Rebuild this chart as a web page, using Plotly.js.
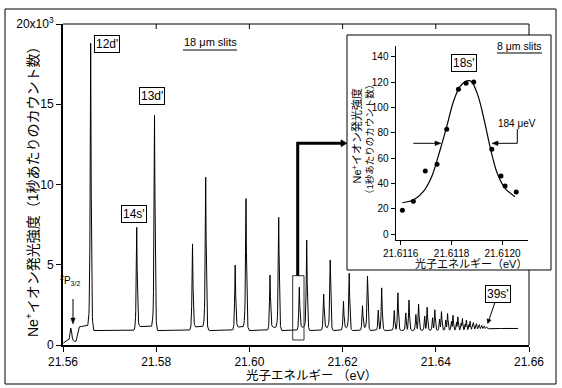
<!DOCTYPE html>
<html><head><meta charset="utf-8">
<script src="https://cdn.plot.ly/plotly-3.0.1.min.js"></script>
<style>html,body{margin:0;padding:0;background:#fff;}#chart{width:562px;height:388px;}</style>
</head><body><div id="chart"></div>
<script>
// ---- Main spectrum: resonance peaks (eV) and peak heights (counts/s) ----
const peakEnergy = [
  21.56594,
  21.57582, 21.57964, 21.58779, 21.59062, 21.59695, 21.59927, 21.60442, 21.60629,
  21.61071, 21.61230, 21.61594, 21.61734, 21.62019, 21.62142, 21.62427, 21.62534,
  21.62766, 21.62839, 21.63109, 21.63187, 21.63356, 21.63425, 21.63573, 21.63631,
  21.63762, 21.63815, 21.63931, 21.63979, 21.64082, 21.64122, 21.64215, 21.64253,
  21.64337, 21.64369, 21.64444, 21.64474, 21.64543, 21.64571, 21.64631, 21.64657,
  21.64712, 21.64736, 21.64785, 21.64807, 21.64854, 21.64873, 21.64916, 21.64933,
  21.64972, 21.64989, 21.65026, 21.65041, 21.65075, 21.65088
];
const peakCounts = [
  18800,
  7330, 14300, 6300, 10450, 4980, 9120, 4360, 7950,
  3600, 6540, 3170, 5300, 2720, 4470, 2450, 4290,
  2180, 3560, 2150, 3250, 2000, 2800, 1900, 2550,
  1800, 2350, 1700, 2200, 1620, 2080, 1550, 1960,
  1480, 1850, 1420, 1750, 1360, 1650, 1310, 1560,
  1270, 1480, 1230, 1400, 1190, 1330, 1160, 1270,
  1130, 1220, 1110, 1180, 1090, 1140
];
// background level under the peaks (eV, counts/s)
const baseEnergy = [
  21.56006, 21.56064, 21.56129, 21.56150, 21.56167, 21.56185, 21.56204, 21.56236,
  21.56279, 21.56307, 21.56333, 21.56365, 21.56494, 21.56569, 21.56622, 21.56665,
  21.57542, 21.57612, 21.57934, 21.58004,
  21.58739, 21.58809, 21.59032, 21.59102,
  21.59655, 21.59725, 21.59897, 21.59967,
  21.60402, 21.60472, 21.60599, 21.60669,
  21.61031, 21.61101, 21.61200, 21.61270,
  21.61554, 21.61624, 21.61704, 21.61774,
  21.61979, 21.62049, 21.62112, 21.62182,
  21.62387, 21.62457, 21.62504, 21.62574,
  21.64734, 21.64948, 21.65120, 21.65378, 21.65764
];
const baseCounts = [
  120, 280, 320, 700, 1050, 850, 350, 220,
  220, 600, 1100, 1150, 1180, 1200, 950, 900,
  900, 1150, 1150, 900,
  900, 1130, 1130, 900,
  900, 1120, 1120, 900,
  900, 1100, 1100, 900,
  900, 1100, 1100, 900,
  900, 1080, 1080, 900,
  900, 1060, 1060, 900,
  900, 1050, 1050, 900,
  900, 960, 1010, 1030, 1030
];
// ---- Inset: 18s' resonance, 8 um slits ----
const insetEnergy = [21.611607, 21.61165, 21.611697, 21.611743, 21.611781, 21.611827,
  21.611857, 21.611887, 21.611958, 21.611994, 21.61201, 21.612054];
const insetCounts = [18.9, 26.0, 49.9, 55.2, 82.8, 114.4, 119.1, 120.2, 67.1, 46.0, 38.1, 33.4];
const fitEnergy = [21.611607, 21.61165, 21.611689, 21.611722, 21.611755, 21.611781, 21.611807,
  21.611833, 21.61186, 21.611879, 21.611905, 21.611931, 21.611951, 21.611977, 21.61201, 21.612049];
const fitCounts = [24.9, 27.0, 33.6, 45.4, 66.5, 84.9, 104.6, 116.5, 121.0, 120.4, 108.6, 87.6,
  69.1, 49.4, 36.3, 29.7];
// ---- ticks ----
const mainXTicks = [21.56, 21.58, 21.60, 21.62, 21.64, 21.66];
const topXTicks = [21.58, 21.60, 21.62, 21.64];
const mainYTicks = [0, 5000, 10000, 15000, 20000];
const mainYTickText = ['0', '5', '10', '15', '20x10<sup>3</sup>'];
const insetXTicks = [21.6116, 21.6118, 21.6120];
const insetYTicks = [0, 20, 40, 60, 80, 100, 120, 140];

// ---- line profile used to draw each narrow resonance (drawing style) ----
const profOff = [0, 0.0001, 0.0002, 0.0003, 0.00045, 0.00065];
const profVal = [1, 0.55, 0.2, 0.07, 0.02, 0];
function interp(xs, ys, x) {
  if (x <= xs[0]) return ys[0];
  const n = xs.length;
  if (x >= xs[n - 1]) return ys[n - 1];
  let i = 1; while (xs[i] < x) i++;
  const t = (x - xs[i - 1]) / (xs[i] - xs[i - 1]);
  return ys[i - 1] + t * (ys[i] - ys[i - 1]);
}
const baseAt = e => interp(baseEnergy, baseCounts, e);
const prof = d => { d = Math.abs(d); return d >= profOff[profOff.length - 1] ? 0 : interp(profOff, profVal, d); };
let specX = [];
const e0 = baseEnergy[0], e1 = baseEnergy[baseEnergy.length - 1];
for (let k = 0; e0 + k * 0.00005 <= e1; k++) specX.push(e0 + k * 0.00005);
specX = specX.concat(peakEnergy, baseEnergy).sort((a, b) => a - b);
const specY = specX.map(e => {
  const b = baseAt(e); let m = 0;
  for (let i = 0; i < peakEnergy.length; i++) {
    const d = e - peakEnergy[i];
    if (Math.abs(d) < 0.00065) m = Math.max(m, (peakCounts[i] - baseAt(peakEnergy[i])) * prof(d));
  }
  return b + m;
});

// ---- pixel -> paper helpers for layout decorations ----
const PL = 63, PR = 529, PT = 24, PB = 345;
const px = v => (v - PL) / (PR - PL);
const py = v => (PB - v) / (PB - PT);

const FONT = "'Liberation Sans', Arial, 'Noto Sans CJK JP', sans-serif";
const JFONT = "'Liberation Sans', 'Noto Sans CJK JP', sans-serif";

const data = [
  {x: specX, y: specY, type: 'scatter', mode: 'lines', xaxis: 'x', yaxis: 'y',
   line: {color: '#000', width: 1}, hoverinfo: 'skip'},
  {x: fitEnergy, y: fitCounts, type: 'scatter', mode: 'lines', xaxis: 'x2', yaxis: 'y2',
   line: {color: '#000', width: 1.2, shape: 'spline', smoothing: 0.8}},
  {x: insetEnergy, y: insetCounts, type: 'scatter', mode: 'markers', xaxis: 'x2', yaxis: 'y2',
   marker: {color: '#000', size: 5}}
];

function seg(x0, y0, x1, y1, w) {
  return {type: 'line', xref: 'paper', yref: 'paper', x0: px(x0), y0: py(y0), x1: px(x1), y1: py(y1),
    line: {color: '#000', width: w || 1}};
}
function tri(ax, ay, bx, by, cx, cy) {
  return {type: 'path', xref: 'paper', yref: 'paper',
    path: `M ${px(ax)},${py(ay)} L ${px(bx)},${py(by)} L ${px(cx)},${py(cy)} Z`,
    fillcolor: '#000', line: {color: '#000', width: 0.5}};
}

const shapes = [
  {type: 'rect', xref: 'paper', yref: 'paper', x0: px(5), x1: px(556), y0: py(384), y1: py(9),
   line: {color: '#000', width: 1}, layer: 'below'},
  {type: 'rect', xref: 'paper', yref: 'paper', x0: px(347), x1: px(551), y0: py(270), y1: py(35),
   fillcolor: '#fff', line: {color: '#000', width: 1}, layer: 'below'},
  seg(PL, PT, PR, PT), seg(PR, PT, PR, 35), seg(PR, 270, PR, PB),
  seg(183, 50, 237, 50), seg(497, 53, 542, 53),
  {type: 'rect', xref: 'paper', yref: 'paper', x0: px(292.7), x1: px(304), y0: py(340), y1: py(275.7),
   line: {color: '#333', width: 1}},
  {type: 'path', xref: 'paper', yref: 'paper',
   path: `M ${px(297.7)},${py(275.7)} L ${px(297.7)},${py(143.3)} L ${px(342)},${py(143.3)}`,
   line: {color: '#000', width: 3}},
  tri(341, 139.8, 347, 143.3, 341, 146.8),
  // 2P3/2 arrow
  seg(73, 299, 73, 319), tri(70.8, 318, 75.2, 318, 73, 324),
  // FWHM arrows in the inset
  seg(413.3, 143.3, 436, 143.3), tri(435, 141, 441, 143.3, 435, 145.6),
  seg(517.3, 129, 517.3, 143.3), seg(517.3, 143.3, 497, 143.3), tri(498, 141, 492, 143.3, 498, 145.6)
];
topXTicks.forEach(t => shapes.push({type: 'line', xref: 'x', yref: 'paper', x0: t, x1: t, y0: 1, y1: 1 - 5 / (PB - PT),
  line: {color: '#000', width: 1}}));

function ann(text, x, y, o) {
  return Object.assign({text: text, xref: 'paper', yref: 'paper', x: px(x), y: py(y),
    xanchor: 'center', yanchor: 'middle', showarrow: false, font: {size: 12}}, o || {});
}
const boxed = {bordercolor: '#000', borderwidth: 1, borderpad: 1, bgcolor: '#fff'};
const annotations = [
  ann("12d'", 106.5, 44, boxed),
  ann("13d'", 151.5, 96, boxed),
  ann("14s'", 134, 213.5, boxed),
  Object.assign(ann("39s'", 487.5, 324, boxed), {showarrow: true, ax: 10.3, ay: -29.8, arrowhead: 2,
    arrowsize: 1, arrowwidth: 1, arrowcolor: '#000', standoff: 0, xanchor: 'auto', yanchor: 'auto'}),
  ann('18 μm slits', 210, 42, {font: {size: 11}}),
  ann('<sup>2</sup>P<sub>3/2</sub>', 70, 280, {font: {size: 10}}),
  ann('光子エネルギー （eV）', 311, 375.5, {font: {size: 12.5, family: JFONT}}),
  ann('Ne<sup>+</sup>イオン発光強度（1秒あたりのカウント数）', 32, 189, {textangle: -90, font: {size: 14, family: JFONT}}),
  // inset texts
  ann("18s'", 463.5, 63, boxed),
  ann('8 μm slits', 519.5, 46.5, {font: {size: 10.5}}),
  ann('184 μeV', 516.5, 123, {font: {size: 10}}),
  ann('Ne<sup>+</sup>イオン発光強度', 356.5, 136, {textangle: -90, font: {size: 11, family: JFONT}}),
  ann('（1秒あたりのカウント数）', 369, 140, {textangle: -90, font: {size: 9.5, family: JFONT}}),
  ann('光子エネルギー（eV）', 471, 263.5, {font: {size: 11, family: JFONT}})
];

const layout = {
  width: 562, height: 388,
  margin: {l: 63, r: 33, t: 24, b: 43, pad: 0},
  paper_bgcolor: '#fff', plot_bgcolor: '#fff',
  font: {family: FONT, size: 12, color: '#000'},
  showlegend: false,
  xaxis: {domain: [0, 1], anchor: 'y', range: [21.56, 21.66], tickvals: mainXTicks, tickformat: '.2f',
    ticks: 'outside', ticklen: 5, tickwidth: 1, tickcolor: '#000', showline: true, linewidth: 2,
    linecolor: '#000', showgrid: false, zeroline: false, tickfont: {size: 12}},
  yaxis: {domain: [0, 1], anchor: 'x', range: [0, 20000], tickvals: mainYTicks, ticktext: mainYTickText,
    ticks: 'outside', ticklen: 5, tickwidth: 1, tickcolor: '#000', showline: true, linewidth: 2,
    linecolor: '#000', showgrid: false, zeroline: false, tickfont: {size: 12}},
  xaxis2: {domain: [px(395.5), px(528)], anchor: 'y2', range: [21.61158, 21.6121], tickvals: insetXTicks,
    tickformat: '.4f', ticks: 'outside', ticklen: 4, tickwidth: 1, tickcolor: '#000', showline: true,
    linewidth: 1, linecolor: '#000', showgrid: false, zeroline: false, tickfont: {size: 10}},
  yaxis2: {domain: [py(240), py(46)], anchor: 'x2', range: [-4.5, 148.56], tickvals: insetYTicks,
    ticks: 'outside', ticklen: 4, tickwidth: 1, tickcolor: '#000', showline: true, linewidth: 1,
    linecolor: '#000', showgrid: false, zeroline: false, tickfont: {size: 10}},
  shapes: shapes,
  annotations: annotations
};
Plotly.newPlot('chart', data, layout, {staticPlot: true, displayModeBar: false});
</script>
</body></html>
